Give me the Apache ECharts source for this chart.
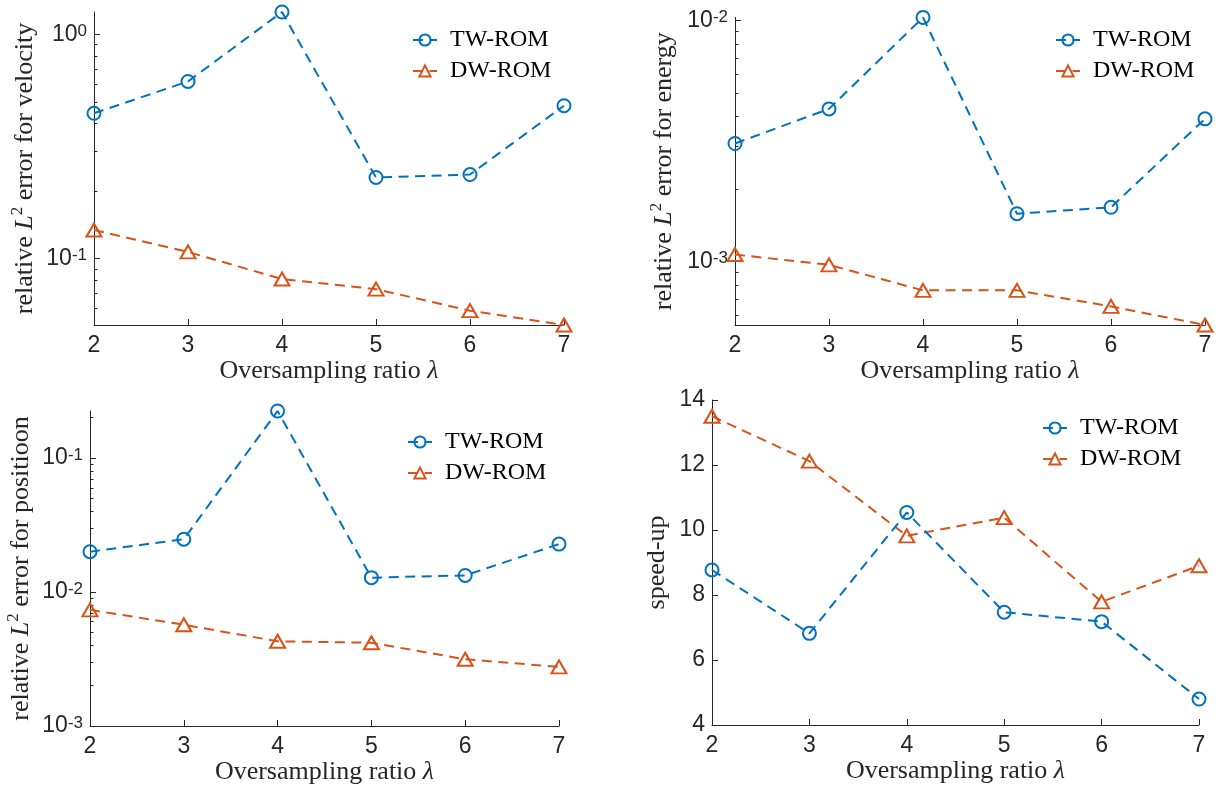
<!DOCTYPE html>
<html>
<head>
<meta charset="utf-8">
<script src="https://cdn.jsdelivr.net/npm/echarts@6/dist/echarts.min.js"></script>
<style>html,body{margin:0;padding:0;background:#fff}#c{width:1225px;height:792px}</style>
</head>
<body>
<div id="c"></div>
<script>
// ---- data ----
const X = [2, 3, 4, 5, 6, 7];
const velocityTW = [0.445, 0.617, 1.26, 0.230, 0.237, 0.481];
const velocityDW = [0.134, 0.107, 0.081, 0.073, 0.0585, 0.0505];
const energyTW = [0.00309, 0.00430, 0.0103, 0.00158, 0.00168, 0.00391];
const energyDW = [0.00107, 0.00097, 0.00076, 0.00076, 0.000652, 0.000546];
const positionTW = [0.0200, 0.0248, 0.2245, 0.0128, 0.0133, 0.0228];
const positionDW = [0.00736, 0.00570, 0.00429, 0.00418, 0.00315, 0.00276];
const speedTW = [8.77, 6.82, 10.54, 7.47, 7.18, 4.80];
const speedDW = [13.5, 12.12, 9.82, 10.38, 7.79, 8.90];
const seriesNames = ['TW-ROM', 'DW-ROM'];
const yTitles = ['error for velocity', 'error for energy', 'error for positioon', 'speed-up'];
const xTitle = 'Oversampling ratio ';
const majorVel = [0.1, 1];
const minorVel = [0.06, 0.07, 0.08, 0.09, 0.2, 0.3, 0.4, 0.5, 0.6, 0.7, 0.8, 0.9];
const majorEn = [0.001, 0.01];
const minorEn = [0.0006, 0.0007, 0.0008, 0.0009, 0.002, 0.003, 0.004, 0.005, 0.006, 0.007, 0.008, 0.009];
const majorPos = [0.001, 0.01, 0.1];
const minorPos = [0.002, 0.003, 0.004, 0.005, 0.006, 0.007, 0.008, 0.009, 0.02, 0.03, 0.04, 0.05, 0.06, 0.07, 0.08, 0.09, 0.2];

// ---- styling ----
const BLUE = '#0072BD', ORANGE = '#D95319', AX = '#262626';
const SERIF = '"Liberation Serif", "DejaVu Serif", serif';
const SANS = '"Liberation Sans", Arial, sans-serif';

const grids = [
  {left: 94, top: 12, width: 470, height: 313},
  {left: 735, top: 12, width: 470, height: 313},
  {left: 90, top: 411, width: 469, height: 315},
  {left: 712, top: 400, width: 487, height: 325}
];

const pairs = arr => X.map((x, i) => [x, arr[i]]);

const xAxes = grids.map((g, i) => ({
  type: 'value', gridIndex: i, min: 2, max: 7, interval: 1,
  axisLine: {show: true, lineStyle: {color: AX, width: 1}},
  axisTick: {inside: true, length: 6, lineStyle: {color: AX}},
  axisLabel: {fontFamily: SANS, fontSize: 23, color: AX, margin: 9},
  splitLine: {show: false},
  name: '{r|' + xTitle + '}{i|λ}', nameLocation: 'middle', nameGap: 33,
  nameTextStyle: {rich: {
    r: {fontFamily: SERIF, fontSize: 26, color: AX},
    i: {fontFamily: SERIF, fontSize: 26, fontStyle: 'italic', color: AX}
  }}
}));

const logLabel = v => {
  const e = Math.round(Math.log10(v));
  return '{b|10}{e|' + e + '}';
};
const logRich = {
  b: {fontFamily: SANS, fontSize: 23, color: AX, lineHeight: 23, padding: [9, 0, 0, 0], verticalAlign: 'bottom'},
  e: {fontFamily: SANS, fontSize: 17, color: AX, lineHeight: 17, verticalAlign: 'top'}
};
const yName = t => '{r|relative }{i|L}{s|2}{r| ' + t + '}';
const yNameRich = {
  r: {fontFamily: SERIF, fontSize: 26, color: AX, lineHeight: 29, verticalAlign: 'bottom'},
  i: {fontFamily: SERIF, fontSize: 26, fontStyle: 'italic', color: AX, lineHeight: 29, verticalAlign: 'bottom'},
  s: {fontFamily: SERIF, fontSize: 17, color: AX, lineHeight: 17, verticalAlign: 'top'}
};

function logAxis(i, min, max, major, gap, title) {
  return {
    type: 'log', logBase: 10, gridIndex: i, min: min, max: max, position: 'left',
    axisLine: {show: true, lineStyle: {color: AX, width: 1}},
    axisTick: {inside: true, length: 6, customValues: major, lineStyle: {color: AX}},
    axisLabel: {customValues: major, formatter: logLabel, rich: logRich, margin: 7},
    splitLine: {show: false}, minorTick: {show: false},
    name: yName(title), nameLocation: 'middle', nameGap: gap, nameRotate: 90,
    nameTextStyle: {rich: yNameRich}
  };
}
function minorAxis(i, min, max, minor) {
  return {
    type: 'log', logBase: 10, gridIndex: i, min: min, max: max, position: 'left',
    axisLine: {show: false},
    axisTick: {inside: true, length: 3.5, customValues: minor, lineStyle: {color: AX}},
    axisLabel: {show: false}, splitLine: {show: false}
  };
}

const yAxes = [
  logAxis(0, Math.min(...velocityDW), Math.max(...velocityTW), majorVel, 56, yTitles[0]),
  logAxis(1, Math.min(...energyDW), Math.max(...energyTW), majorEn, 58, yTitles[1]),
  logAxis(2, 0.001, Math.max(...positionTW), majorPos, 56, yTitles[2]),
  {
    type: 'value', gridIndex: 3, min: 4, max: 14, interval: 2, position: 'left',
    axisLine: {show: true, lineStyle: {color: AX, width: 1}},
    axisTick: {inside: true, length: 6, lineStyle: {color: AX}},
    axisLabel: {fontFamily: SANS, fontSize: 23, color: AX, margin: 7},
    splitLine: {show: false},
    name: yTitles[3], nameLocation: 'middle', nameGap: 42, nameRotate: 90,
    nameTextStyle: {fontFamily: SERIF, fontSize: 26, color: AX}
  },
  minorAxis(0, Math.min(...velocityDW), Math.max(...velocityTW), minorVel),
  minorAxis(1, Math.min(...energyDW), Math.max(...energyTW), minorEn),
  minorAxis(2, 0.001, Math.max(...positionTW), minorPos)
];

function mkSeries(name, arr, gi, isTW) {
  const c = isTW ? BLUE : ORANGE;
  return {
    name: name, type: 'line', xAxisIndex: gi, yAxisIndex: gi, data: pairs(arr),
    symbol: isTW ? 'circle' : 'triangle',
    symbolSize: isTW ? 13 : [15, 13],
    showAllSymbol: true,
    lineStyle: {color: c, width: 2, type: [10, 6.5]},
    itemStyle: {color: 'rgba(255,255,255,0)', borderColor: c, borderWidth: 2},
    emphasis: {disabled: true}, animation: false, z: isTW ? 3 : 2
  };
}

const series = [
  mkSeries(seriesNames[0], velocityTW, 0, true), mkSeries(seriesNames[1], velocityDW, 0, false),
  mkSeries(seriesNames[0], energyTW, 1, true), mkSeries(seriesNames[1], energyDW, 1, false),
  mkSeries(seriesNames[0], positionTW, 2, true), mkSeries(seriesNames[1], positionDW, 2, false),
  mkSeries(seriesNames[0], speedTW, 3, true), mkSeries(seriesNames[1], speedDW, 3, false)
];

const legendPos = [[407, 23], [1050, 23], [402, 425], [1037, 411]];
const legends = legendPos.map(p => ({
  data: seriesNames, orient: 'vertical', left: p[0], top: p[1],
  itemWidth: 24, itemHeight: 14, itemGap: 7, selectedMode: false,
  textStyle: {fontFamily: SERIF, fontSize: 24, color: '#000', lineHeight: 24, padding: [0, 0, 0, 8]}
}));

const chart = echarts.init(document.getElementById('c'), null, {renderer: 'canvas'});
chart.setOption({
  backgroundColor: '#fff', animation: false,
  grid: grids, xAxis: xAxes, yAxis: yAxes, legend: legends, series: series
});
</script>
</body>
</html>
